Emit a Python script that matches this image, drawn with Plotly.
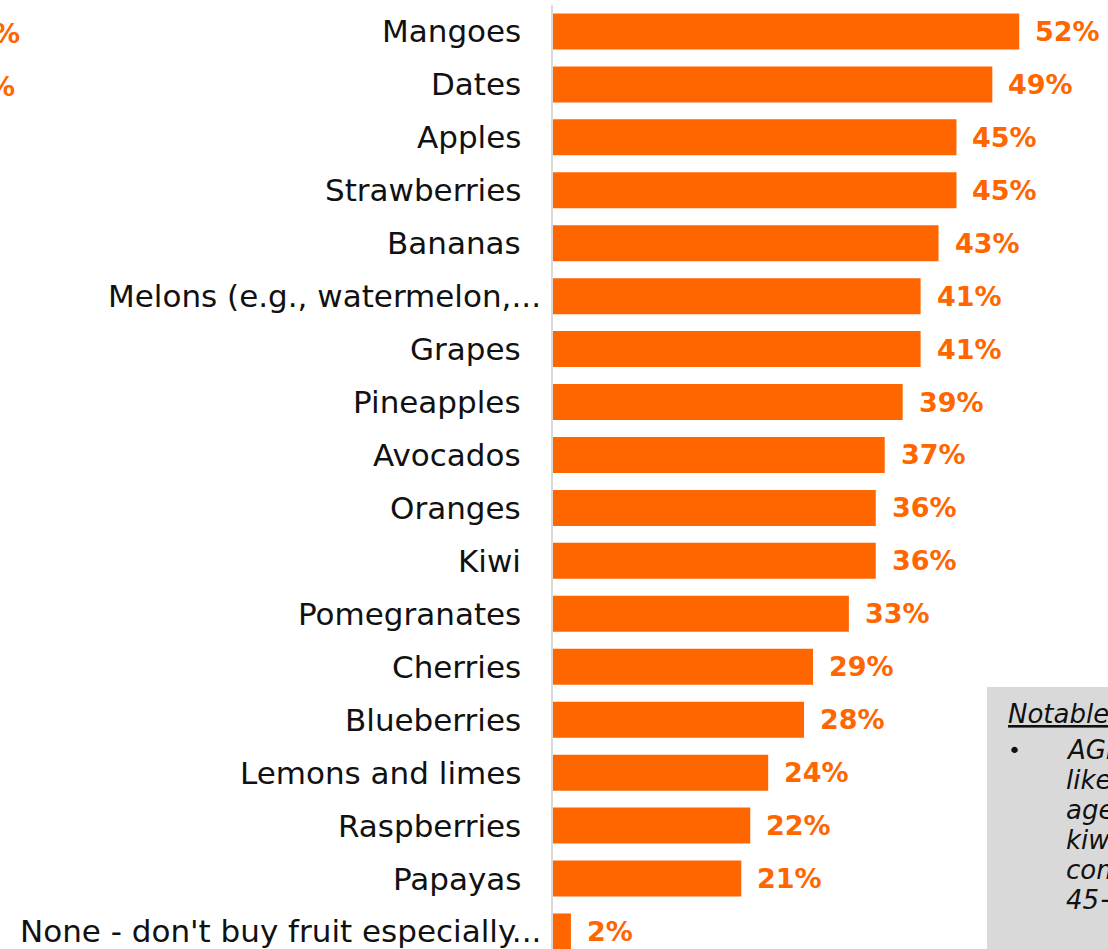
import plotly.graph_objects as go

# Fruit bought especially, share of respondents (%)
categories = [
    "Mangoes", "Dates", "Apples", "Strawberries", "Bananas",
    "Melons (e.g., watermelon,...", "Grapes", "Pineapples", "Avocados",
    "Oranges", "Kiwi", "Pomegranates", "Cherries", "Blueberries",
    "Lemons and limes", "Raspberries", "Papayas",
    "None - don't buy fruit especially...",
]
values = [52, 49, 45, 45, 43, 41, 41, 39, 37, 36, 36, 33, 29, 28, 24, 22, 21, 2]

note_title = "Notable differences"
note_lines = [
    "AGE: Those aged 18-34 are more",
    "likely to buy mangoes than those",
    "aged 55+, and more likely to buy",
    "kiwi and pomegranates when",
    "compared to those aged",
    "45+",
]

ORANGE = "#FF6600"
FONT = "DejaVu Sans"
W, H = 1108, 949
ML, MT, MB, MR = 553, 5, 0, 0
PW, PH = W - ML - MR, H - MT - MB


def px_x(px):
    return (px - ML) / PW


def px_y(py):
    return (H - MB - py) / PH


fig = go.Figure(
    go.Bar(
        x=values,
        y=list(range(len(categories))),
        orientation="h",
        marker=dict(color=ORANGE, line=dict(width=0)),
        width=0.68,
        hoverinfo="skip",
        cliponaxis=False,
    )
)

annotations = []
for i, (cat, v) in enumerate(zip(categories, values)):
    shift = -10 if cat.endswith("...") else -30
    annotations.append(dict(
        x=0, y=i, xref="x", yref="y", text=cat, showarrow=False,
        xanchor="right", yanchor="middle", xshift=shift,
        font=dict(family=FONT, size=31, color="#111111"),
    ))
    annotations.append(dict(
        x=v, y=i, xref="x", yref="y", text=f"<b>{v}%</b>", showarrow=False,
        xanchor="left", yanchor="middle", xshift=14,
        font=dict(family=FONT, size=27, color=ORANGE),
    ))

# partial labels belonging to the neighbouring panel on the left
for py, right in [(33, 22), (87, 17)]:
    annotations.append(dict(
        x=px_x(right), y=px_y(py), xref="paper", yref="paper", text="<b>%</b>",
        showarrow=False, xanchor="right", yanchor="middle",
        font=dict(family=FONT, size=27, color=ORANGE),
    ))

# note box
annotations.append(dict(
    x=px_x(1006), y=px_y(714), xref="paper", yref="paper",
    text=f"<i><u>{note_title}</u></i>", showarrow=False,
    xanchor="left", yanchor="middle",
    font=dict(family=FONT, size=26, color="#111111"),
))
annotations.append(dict(
    x=px_x(1006), y=px_y(750), xref="paper", yref="paper", text="•",
    showarrow=False, xanchor="left", yanchor="middle",
    font=dict(family=FONT, size=22, color="#111111"),
))
for k, line in enumerate(note_lines):
    annotations.append(dict(
        x=px_x(1064), y=px_y(750 + 30 * k), xref="paper", yref="paper",
        text=f"<i>{line}</i>", showarrow=False, xanchor="left", yanchor="middle",
        font=dict(family=FONT, size=26, color="#111111"),
    ))

fig.update_layout(
    width=W, height=H,
    margin=dict(l=ML, r=MR, t=MT, b=MB, pad=0),
    plot_bgcolor="white", paper_bgcolor="white",
    showlegend=False,
    bargap=0.32,
    xaxis=dict(range=[0, 61.9], visible=False, fixedrange=True),
    yaxis=dict(
        range=[len(categories) - 0.5 + (PH / 52.94 - len(categories)), -0.5],
        showticklabels=False, showgrid=False, zeroline=False,
        showline=True, linecolor="#d9d9d9", linewidth=2, ticks="",
        fixedrange=True,
    ),
    shapes=[dict(
        type="rect", xref="paper", yref="paper", layer="below",
        x0=px_x(987), x1=px_x(1130), y0=px_y(687), y1=px_y(980),
        fillcolor="#d9d9d9", line=dict(width=0),
    )],
    annotations=annotations,
)

fig.write_html("out.html", config=dict(displayModeBar=False))
